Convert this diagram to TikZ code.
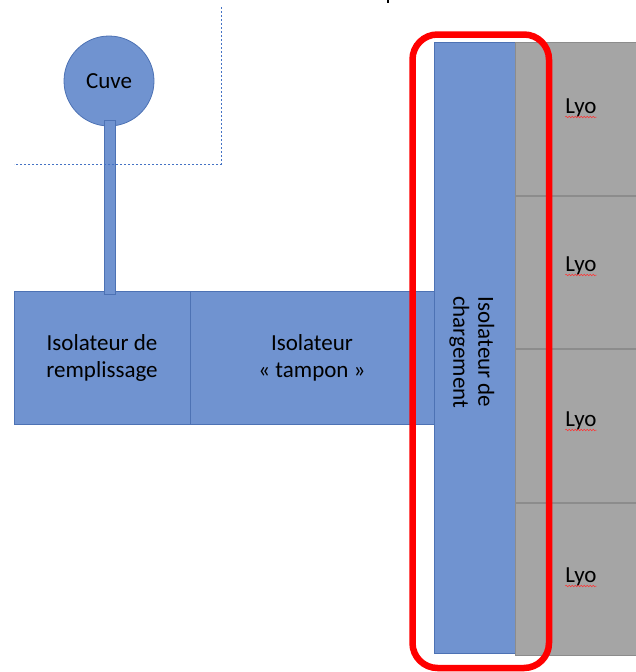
\documentclass[tikz,border=0pt]{standalone}
\usepackage{fontspec}
\setmainfont{Carlito}
\usetikzlibrary{decorations.pathmorphing}
\definecolor{isoblue}{HTML}{7093D0}
\definecolor{isoedge}{HTML}{4D72B4}
\definecolor{lyogray}{HTML}{A5A5A5}
\definecolor{lyoedge}{HTML}{8C8C8C}
\definecolor{guideblue}{HTML}{4472C4}
\definecolor{frame}{HTML}{FF0000}
\begin{document}
\begin{tikzpicture}[x=1pt,y=-1pt,
  isobox/.style={draw=isoedge,fill=isoblue,line width=0.8pt,rectangle,inner sep=0pt,
    align=center,font=\fontsize{23}{27}\selectfont},
  lyobox/.style={draw=lyoedge,fill=lyogray,line width=0.8pt,rectangle,inner sep=0pt,
    minimum width=130pt,minimum height=152.75pt},
  lyolabel/.style={anchor=base,inner sep=0pt,font=\fontsize{23}{27}\selectfont},
  guide/.style={draw=guideblue,line width=0.9pt,dash pattern=on 2pt off 2pt},
  squiggle/.style={draw=red!80!white,line width=0.5pt,
    decorate,decoration={snake,amplitude=0.8pt,segment length=3pt}}]
\clip (0,0) rectangle (636,672);
\useasboundingbox (0,0) rectangle (636,672);

% isolator chain
\node[isobox,minimum width=176pt,minimum height=133pt] (remp) at (102,357.5)
  {Isolateur de\\remplissage};
\node[isobox,minimum width=244pt,minimum height=133pt] (tamp) at (312,357.5)
  {Isolateur\\« tampon »};
\node[isobox,minimum width=81pt,minimum height=611pt] (charg) at (474.5,347.5) {};
\node[rotate=-90,align=center,inner sep=0pt,font=\fontsize{23}{25}\selectfont] (chargtxt)
  at (472,352) {Isolateur de\\chargement};

% freeze dryers
\node[lyobox,anchor=north west] (lyo1) at (515,42) {};
\node[lyobox,anchor=north west] (lyo2) at (lyo1.south west) {};
\node[lyobox,anchor=north west] (lyo3) at (lyo2.south west) {};
\node[lyobox,anchor=north west] (lyo4) at (lyo3.south west) {};
\node[lyolabel] (l1) at (581,113) {Lyo};
\node[lyolabel] (l2) at (581,271) {Lyo};
\node[lyolabel] (l3) at (581,426) {Lyo};
\node[lyolabel] (l4) at (581,582) {Lyo};
\foreach \n in {l1,l2,l3,l4}
  \draw[squiggle] ([yshift=-4pt]\n.base west) -- ([yshift=-4pt]\n.base east);

% tank and its feed pipe
\node[circle,draw=isoedge,fill=isoblue,line width=0.8pt,minimum size=90pt,inner sep=0pt,
  font=\fontsize{23}{27}\selectfont] (cuve) at (109,81) {Cuve};
\node[rectangle,draw=isoedge,fill=isoblue,line width=0.8pt,inner sep=0pt,
  minimum width=11pt,minimum height=174pt] (pipe) at (109.5,207) {};

% zone boundary
\coordinate (gtop) at (221,7);
\coordinate (gcorner) at (221,164);
\coordinate (gleft) at (14,164);
\draw[guide] (gtop) -- (gcorner) -- (gleft);

% highlight around the loading isolator
\coordinate (fa) at (412.5,34.5);
\coordinate (fb) at (549,668);
\draw[frame,line width=6.5pt,rounded corners=25pt] (fa) rectangle (fb);

% cut-off title stroke
\fill[black] (386.5,0) rectangle (389,3);
\end{tikzpicture}
\end{document}
